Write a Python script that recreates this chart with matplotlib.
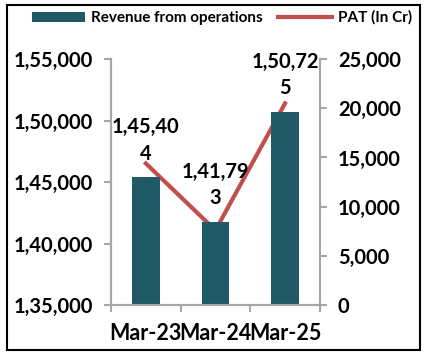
import matplotlib.pyplot as plt
import matplotlib.patches as patches
from matplotlib.ticker import FuncFormatter, FixedLocator

plt.rcParams['font.family'] = ['Lato', 'DejaVu Sans']
plt.rcParams['font.weight'] = 'bold'

# data
years = ['Mar-23', 'Mar-24', 'Mar-25']
revenue = [145404, 141793, 150725]
pat = [14400, 7600, 20500]
rev_labels = ['1,45,40\n4', '1,41,79\n3', '1,50,72\n5']

teal = '#215A67'
red = '#C0504D'
grey = '#A6A6A6'


def indian(v, pos=None):
    s = str(int(round(v)))
    if len(s) <= 3:
        return s
    head, tail = s[:-3], s[-3:]
    parts = []
    while len(head) > 2:
        parts.insert(0, head[-2:])
        head = head[:-2]
    if head:
        parts.insert(0, head)
    return ','.join(parts + [tail])


fig = plt.figure(figsize=(4.27, 3.56), dpi=100)
ax = fig.add_axes([0.26, 0.143, 0.489, 0.691])
ax2 = ax.twinx()

x = list(range(len(years)))
ax.bar(x, revenue, width=0.4, color=teal, label='Revenue from operations', zorder=2)
ax2.plot(x, pat, color=red, lw=3, label='PAT (In Cr)', zorder=3)

ax.set_xlim(-0.5, 2.5)
ax.set_ylim(135000, 155000)
ax.set_yticks(range(135000, 155001, 5000))
ax.yaxis.set_major_formatter(FuncFormatter(indian))
ax2.set_ylim(0, 25000)
ax2.set_yticks(range(0, 25001, 5000))
ax2.yaxis.set_major_formatter(FuncFormatter(lambda v, p: f'{int(v):,}'))

ax.set_xticks(x)
ax.set_xticklabels(years)
ax.xaxis.set_minor_locator(FixedLocator([-0.5, 0.5, 1.5, 2.5]))
ax.tick_params(axis='x', which='major', length=0, labelsize=15.5, pad=13)
ax.tick_params(axis='x', which='minor', length=5, color=grey, width=1.5, direction='out')
ax.tick_params(axis='y', length=5, color=grey, width=1.5, labelsize=14.5, pad=8)
ax2.tick_params(axis='y', length=5, color=grey, width=1.5, labelsize=14.5, pad=8)

for a in (ax, ax2):
    a.spines['top'].set_visible(False)
    for s in ('left', 'right', 'bottom'):
        a.spines[s].set_color(grey)
        a.spines[s].set_linewidth(1.5)
ax.set_zorder(ax2.get_zorder() + 1)
ax.patch.set_visible(False)
ax2.set_zorder(0)

for xi, r, lab in zip(x, revenue, rev_labels):
    ax.text(xi, r + 1100, lab, ha='center', va='bottom', fontsize=14.5,
            fontweight='bold', linespacing=1.4, zorder=5)

h1, l1 = ax.get_legend_handles_labels()
h2, l2 = ax2.get_legend_handles_labels()
fig.legend(h1 + h2, l1 + l2, loc='center', bbox_to_anchor=(0.52, 0.95), ncol=2,
           frameon=False, fontsize=11, handlelength=3.5, handleheight=0.6,
           columnspacing=1.0, handletextpad=0.4)

fig.patches.append(patches.Rectangle((0.017, 0.017), 0.966, 0.97, transform=fig.transFigure,
                                     fill=False, edgecolor='black', lw=1.5))

fig.savefig('out.png', dpi=100)
